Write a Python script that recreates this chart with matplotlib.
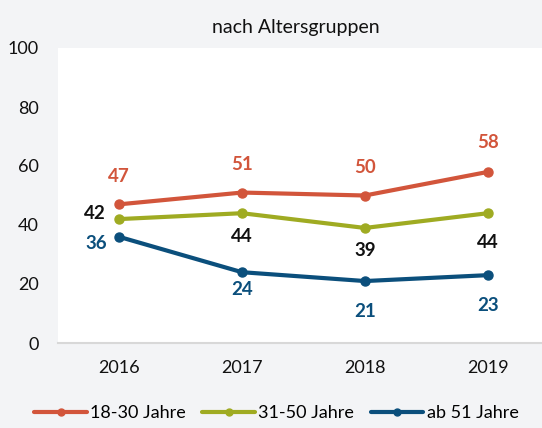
import matplotlib
matplotlib.use("Agg")
import matplotlib.pyplot as plt

years = ["2016", "2017", "2018", "2019"]
series_names = ["18-30 Jahre", "31-50 Jahre", "ab 51 Jahre"]
v_18_30 = [47, 51, 50, 58]
v_31_50 = [42, 44, 39, 44]
v_ab51 = [36, 24, 21, 23]
yticks = [0, 20, 40, 60, 80, 100]
title = "nach Altersgruppen"

colors = ["#d2553b", "#9fab22", "#0b4f7c"]
label_colors = ["#d2553b", "#111111", "#0b4f7c"]
# label offsets in pixels (dx, dy)
offsets = [
    [(0, 28), (0, 28), (0, 28), (0, 29)],
    [(-24, 6), (0, -23), (0, -23), (0, -29)],
    [(-23, -7), (0, -17), (0, -30), (0, -30)],
]

plt.rcParams['font.family'] = ['Lato', 'DejaVu Sans']
bg = "#f3f4f6"
fig = plt.figure(figsize=(5.42, 4.28), dpi=100, facecolor=bg)
ax = fig.add_axes([58/542, 1-343/428, 484/542, 295/428])
ax.set_facecolor("white")

x = list(range(len(years)))
for vals, name, c, lc, offs in zip([v_18_30, v_31_50, v_ab51], series_names, colors, label_colors, offsets):
    ax.plot(x, vals, color=c, lw=3, marker='o', ms=6.5, label=name, solid_capstyle='round')
    for xi, v, (dx, dy) in zip(x, vals, offs):
        ax.annotate(str(v), (xi, v), xytext=(dx, dy), textcoords='offset pixels',
                    ha='center', va='center', color=lc, fontsize=13.5, fontweight='bold')

ax.set_xlim(-0.496, 3.44)
ax.set_ylim(0, 100)
ax.set_xticks(x)
ax.set_xticklabels(years)
ax.set_yticks(yticks)
ax.tick_params(axis='both', length=0, labelsize=13, colors='#111111')
ax.tick_params(axis='y', pad=14)
ax.tick_params(axis='x', pad=12)
for s in ['top', 'right', 'left']:
    ax.spines[s].set_visible(False)
ax.spines['bottom'].set_color('#d8d8d8')
ax.spines['bottom'].set_linewidth(1.5)

fig.text(296/542, 1-27/428, title, ha='center', va='center', fontsize=14, color='#111111')

leg = fig.legend(loc='center', bbox_to_anchor=(0.51, 1-413/428), ncol=3, frameon=False,
                 fontsize=13, handlelength=2.9, handletextpad=0.2, columnspacing=0.9,
                 borderaxespad=0)
for h in leg.legend_handles:
    h.set_markersize(5)

fig.savefig("out.png", dpi=100, facecolor=bg)
